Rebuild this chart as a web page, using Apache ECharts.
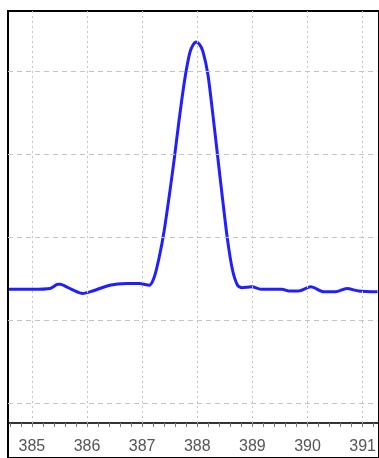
<!DOCTYPE html>
<html>
<head>
<meta charset="utf-8">
<script src="https://cdn.jsdelivr.net/npm/echarts@6/dist/echarts.min.js"></script>
<style>
html,body{margin:0;padding:0;background:#fff;}
#chart{width:379px;height:458px;}
</style>
</head>
<body>
<div id="chart"></div>
<script>
// wavelength (nm)
var wavelengths = [384.57, 385.0, 385.33, 385.47, 385.51, 385.6, 385.75, 385.92, 386.1, 386.41, 386.72, 386.95, 387.13, 387.22, 387.31, 387.40, 387.49, 387.58, 387.67, 387.77, 387.86, 387.92, 387.98, 388.04, 388.10, 388.19, 388.28, 388.37, 388.46, 388.55, 388.64, 388.73, 388.81, 388.99, 389.17, 389.54, 389.66, 389.84, 390.06, 390.30, 390.51, 390.71, 390.93, 391.27];
// intensity (arbitrary units, one grid division = 1)
var intensity = [1.37, 1.37, 1.38, 1.43, 1.43, 1.41, 1.36, 1.32, 1.35, 1.42, 1.44, 1.44, 1.42, 1.52, 1.76, 2.08, 2.49, 2.93, 3.41, 3.89, 4.21, 4.31, 4.35, 4.32, 4.24, 3.97, 3.49, 2.97, 2.45, 1.96, 1.60, 1.42, 1.39, 1.40, 1.37, 1.37, 1.35, 1.35, 1.40, 1.34, 1.34, 1.38, 1.35, 1.34];
var xTickLabels = [385, 386, 387, 388, 389, 390, 391];
var yGridValues = [0, 1, 2, 3, 4];
var xMin = 384.566, xMax = 391.27;
var yMin = -0.24, yMax = 4.723;

var minorTicks = [];
for (var t = 3846; t <= 3912; t += 2) minorTicks.push(t / 10);

var points = wavelengths.map(function (x, i) { return [x, intensity[i]]; });

var gridMarks = xTickLabels.map(function (v) {
  return { xAxis: v, lineStyle: { type: [2, 3], color: '#c4c4c4', width: 1 } };
}).concat(yGridValues.map(function (v) {
  return { yAxis: v, lineStyle: { type: [5, 4], color: '#c4c4c4', width: 1 } };
}));

var chart = echarts.init(document.getElementById('chart'), null, { renderer: 'canvas' });
chart.setOption({
  animation: false,
  backgroundColor: '#fff',
  grid: [
    { left: 8, top: 11, right: 0, bottom: 35, show: false },
    { left: 8, top: 11, right: -10, bottom: -10, show: true, borderColor: '#000', borderWidth: 2, backgroundColor: 'transparent', z: 5 }
  ],
  xAxis: [
    {
      type: 'value', gridIndex: 0, min: xMin, max: xMax,
      axisLine: { show: true, onZero: false, lineStyle: { color: '#333', width: 2 } },
      axisTick: { show: true, customValues: minorTicks, length: 4, lineStyle: { color: '#777', width: 1 } },
      axisLabel: { customValues: xTickLabels, fontSize: 16, color: '#555', margin: 16, fontFamily: 'Liberation Sans, Arial, sans-serif' },
      splitLine: { show: false }
    },
    { type: 'value', gridIndex: 1, show: false, min: 0, max: 1 }
  ],
  yAxis: [
    {
      type: 'value', gridIndex: 0, min: yMin, max: yMax,
      axisLine: { show: false }, axisTick: { show: false }, axisLabel: { show: false },
      splitLine: { show: false }
    },
    { type: 'value', gridIndex: 1, show: false, min: 0, max: 1 }
  ],
  series: [
    {
      type: 'line', xAxisIndex: 0, yAxisIndex: 0, data: [], z: 1,
      markLine: { silent: true, symbol: ['none', 'none'], label: { show: false }, animation: false, data: gridMarks }
    },
    {
      type: 'line', xAxisIndex: 0, yAxisIndex: 0, data: points, z: 3,
      smooth: 0.25, showSymbol: false, symbol: 'none',
      lineStyle: { color: '#1f1fff', width: 3 }
    }
  ]
});
</script>
</body>
</html>
